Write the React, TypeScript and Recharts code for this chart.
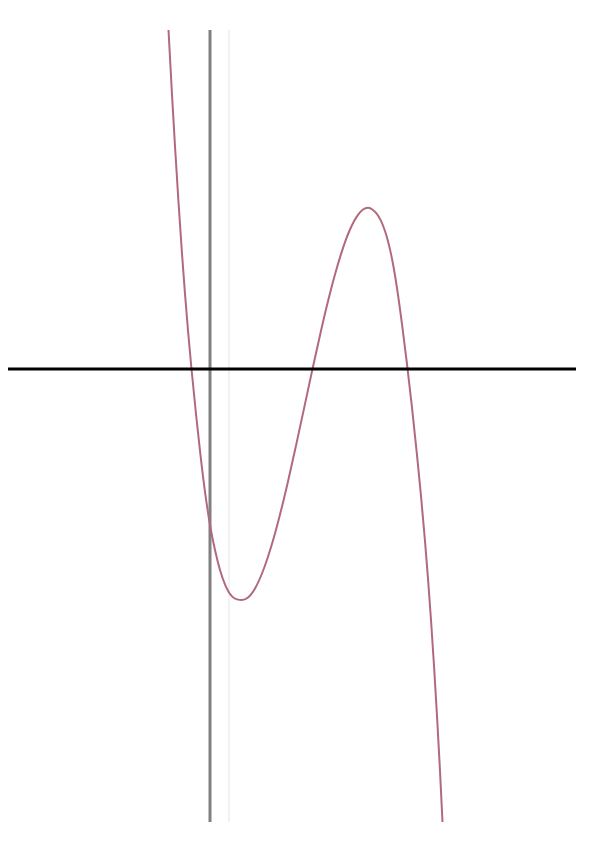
import React from "react";
import { LineChart, Line, XAxis, YAxis, ReferenceLine } from "recharts";

// x and y in graph units (1 unit = 10 px of the original picture), origin where the axes cross
const xs: number[] = [
  -4.15, -3.8, -3.5, -3.15, -2.8, -2.5, -2.2, -1.85, -1.4, -1.0, -0.5, 0.0, 0.5, 1.0, 1.6, 2.2, 2.7,
  3.2, 3.8, 4.5, 5.2, 5.8, 6.4, 7.0, 7.8, 8.6, 9.4, 10.2, 11.0, 11.7, 12.4, 13.1, 13.6, 14.0, 14.4,
  14.8, 15.3, 15.8, 16.3, 16.8, 17.3, 17.7, 18.1, 18.4, 18.7, 19.2, 19.7, 20.2, 20.7, 21.1, 21.5,
  21.8, 22.1, 22.4, 22.7, 23.0, 23.25,
];
const ys: number[] = [
  33.9, 27.44, 22.28, 16.68, 11.53, 7.51, 3.85, 0.0, -4.5, -8.18, -12.28, -15.58, -18.1, -20.1,
  -21.78, -22.74, -23.04, -23.1, -22.85, -21.94, -20.45, -18.78, -16.8, -14.55, -11.24, -7.66, -3.96,
  -0.23, 3.38, 6.37, 9.1, 11.49, 12.96, 13.95, 14.78, 15.42, 15.95, 16.12, 15.9, 15.35, 14.35, 13.15,
  11.51, 9.95, 8.09, 4.49, 0.49, -3.86, -8.61, -12.69, -17.21, -20.96, -25.1, -29.66, -34.67, -40.19,
  -45.3,
];

const curve = xs.map((x, i) => ({ x, y: ys[i] }));

export default function App() {
  return (
    <div style={{ width: 593, height: 830, background: "#ffffff" }}>
      <LineChart
        width={593}
        height={830}
        data={curve}
        margin={{ top: 22, right: 25, bottom: 16, left: 0 }}
      >
        <XAxis dataKey="x" type="number" domain={[-20.2, 36.6]} hide allowDataOverflow />
        <YAxis type="number" domain={[-45.3, 33.9]} hide allowDataOverflow />
        <ReferenceLine x={1.9} stroke="#f2f2f2" strokeWidth={2} />
        <ReferenceLine x={0} stroke="#808080" strokeWidth={3} />
        <Line
          dataKey="y"
          type="monotone"
          stroke="#b06a7c"
          strokeWidth={2}
          dot={false}
          isAnimationActive={false}
        />
        <ReferenceLine y={0} stroke="#000000" strokeWidth={3} />
      </LineChart>
    </div>
  );
}
